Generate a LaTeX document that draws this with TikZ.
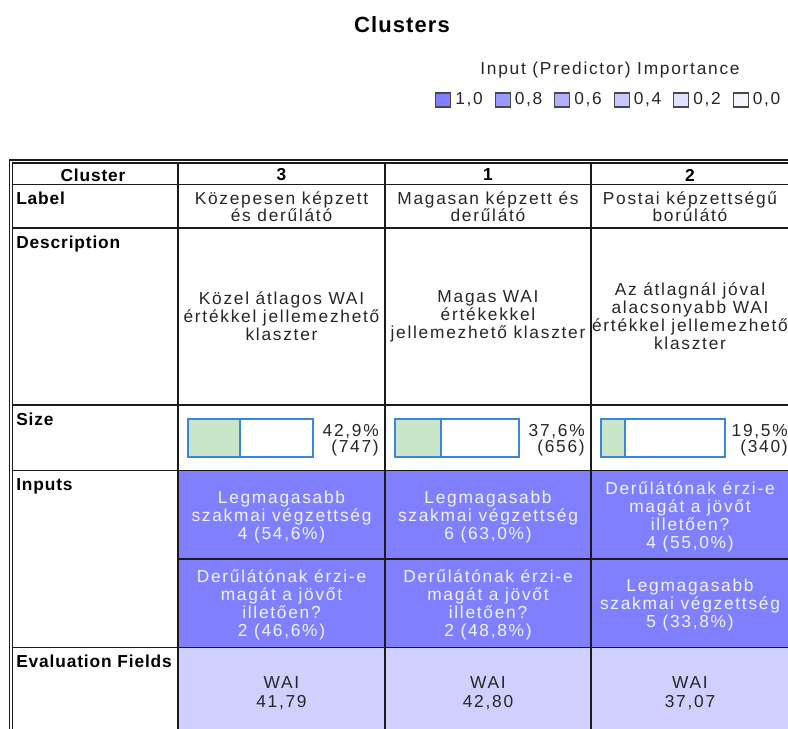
\documentclass[tikz,border=0pt]{standalone}
\usepackage{fontspec}
\setmainfont{Liberation Sans}[LetterSpace=10, BoldFeatures={LetterSpace=5}]
\definecolor{gridline}{HTML}{1A1A1A}
\definecolor{inputfill}{HTML}{8080FF}
\definecolor{evalfill}{HTML}{D0D0FF}
\definecolor{barblue}{HTML}{3A86D8}
\definecolor{bargreen}{HTML}{C9E6CB}
\definecolor{txtdark}{HTML}{262626}
\definecolor{inputtext}{HTML}{F2F2FF}
\definecolor{imp10}{HTML}{8080FF}
\definecolor{imp08}{HTML}{9999FF}
\definecolor{imp06}{HTML}{B0B0FF}
\definecolor{imp04}{HTML}{C8C8FF}
\definecolor{imp02}{HTML}{E0E0FF}
\definecolor{imp00}{HTML}{F4F4FF}
\begin{document}
\begin{tikzpicture}[x=0.75pt,y=-0.75pt,
  txt/.style={inner sep=0pt, text=txtdark, align=center,
    font=\fontsize{13}{13.3}\selectfont},
  labeltxt/.style={txt, font=\fontsize{13}{11.3}\selectfont},
  desctxt/.style={txt, font=\fontsize{13}{13.6}\selectfont},
  evaltxt/.style={txt, font=\fontsize{13}{14}\selectfont},
  intxt/.style={txt, text=inputtext},
  hdr/.style={inner sep=0pt, text=black, font=\bfseries\fontsize{13}{13}\selectfont},
  rowhead/.style={hdr, anchor=north west},
  grid/.style={line width=1pt, draw=gridline},
  barframe/.style={draw=barblue, line width=1pt, fill=white},
  barfill/.style={draw=barblue, line width=1pt, fill=bargreen},
  sizetxt/.style={txt, align=right, anchor=east, font=\fontsize{13}{12}\selectfont},
  swatch/.style={draw=gridline!80, line width=0.8pt, minimum width=11.5pt, minimum height=10.5pt, inner sep=0pt, anchor=west},
  swlabel/.style={txt, anchor=west}
]
\useasboundingbox (0,0) rectangle (788,728);
\clip (0,0) rectangle (788,728);

% title and importance legend
\node[hdr, font=\bfseries\fontsize{16.5}{17}\selectfont] (title) at (402,25) {Clusters};
\node[txt] (legtitle) at (610,70) {Input (Predictor) Importance};
\foreach \c/\v [count=\i from 0] in {imp10/{1,0},imp08/{0,8},imp06/{0,6},imp04/{0,4},imp02/{0,2},imp00/{0,0}}{
  \node[swatch, fill=\c] (sw\i) at ({435+59.5*\i},100) {};
  \node[swlabel] (swl\i) at ({455+59.5*\i},100) {\v};
}

% cell fills
\fill[inputfill] (178,470.5) rectangle (800,647.5);
\fill[evalfill] (178,647.5) rectangle (800,740);

% grid lines
\foreach \yy in {184.5,228,405,470.5,647.5}{
  \draw[grid] (12.5,\yy) -- (800,\yy);
}
\draw[grid] (178,559) -- (800,559);
\draw[grid] (178,163) -- (178,740);
\draw[grid] (385,163) -- (385,740);
\draw[grid] (591,163) -- (591,740);
% double outer border
\draw[grid] (9.5,740) -- (9.5,160) -- (800,160);
\draw[grid] (12.5,740) -- (12.5,163) -- (800,163);

% header row
\node[hdr] (hcluster) at (93,175) {Cluster};
\node[hdr] (hc3) at (281.5,175) {3};
\node[hdr] (hc1) at (488,175) {1};
\node[hdr] (hc2) at (690,175) {2};

% row headings
\node[rowhead] (rlabel) at (16,192) {Label};
\node[rowhead] (rdesc) at (16,236) {Description};
\node[rowhead] (rsize) at (16,413) {Size};
\node[rowhead] (rinputs) at (16,478) {Inputs};
\node[rowhead] (reval) at (16,655) {Evaluation Fields};

% labels
\node[labeltxt, anchor=north] (lab3) at (281.5,191) {Közepesen képzett\\és derűlátó};
\node[labeltxt, anchor=north] (lab1) at (488,191) {Magasan képzett és\\derűlátó};
\node[labeltxt, anchor=north] (lab2) at (690,191) {Postai képzettségű\\borúlátó};

% descriptions
\node[desctxt] (desc3) at (281.5,316) {Közel átlagos WAI\\értékkel jellemezhető\\klaszter};
\node[desctxt] (desc1) at (488,316) {Magas WAI\\értékekkel\\jellemezhető klaszter};
\node[desctxt] (desc2) at (690,316) {Az átlagnál jóval\\alacsonyabb WAI\\értékkel jellemezhető\\klaszter};

% cluster sizes
\draw[barframe] (188,419) rectangle (313,457);
\draw[barfill] (188,419) rectangle (240,457);
\node[sizetxt] (size3) at (379,440) {42,9\%\\(747)};
\draw[barframe] (395,419) rectangle (519,457);
\draw[barfill] (395,419) rectangle (441,457);
\node[sizetxt] (size1) at (585,440) {37,6\%\\(656)};
\draw[barframe] (601,419) rectangle (725,457);
\draw[barfill] (601,419) rectangle (625,457);
\node[sizetxt] (size2) at (788,440) {19,5\%\\(340)};

% inputs
\node[intxt] (in31) at (281.5,517) {Legmagasabb\\szakmai végzettség\\4 (54,6\%)};
\node[intxt] (in11) at (488,517) {Legmagasabb\\szakmai végzettség\\6 (63,0\%)};
\node[intxt] (in21) at (690,517) {Derűlátónak érzi-e\\magát a jövőt\\illetően?\\4 (55,0\%)};
\node[intxt] (in32) at (281.5,605) {Derűlátónak érzi-e\\magát a jövőt\\illetően?\\2 (46,6\%)};
\node[intxt] (in12) at (488,605) {Derűlátónak érzi-e\\magát a jövőt\\illetően?\\2 (48,8\%)};
\node[intxt] (in22) at (690,605) {Legmagasabb\\szakmai végzettség\\5 (33,8\%)};

% evaluation fields
\node[evaltxt] (ev3) at (281.5,693) {WAI\\41,79};
\node[evaltxt] (ev1) at (488,693) {WAI\\42,80};
\node[evaltxt] (ev2) at (690,693) {WAI\\37,07};
\end{tikzpicture}
\end{document}
